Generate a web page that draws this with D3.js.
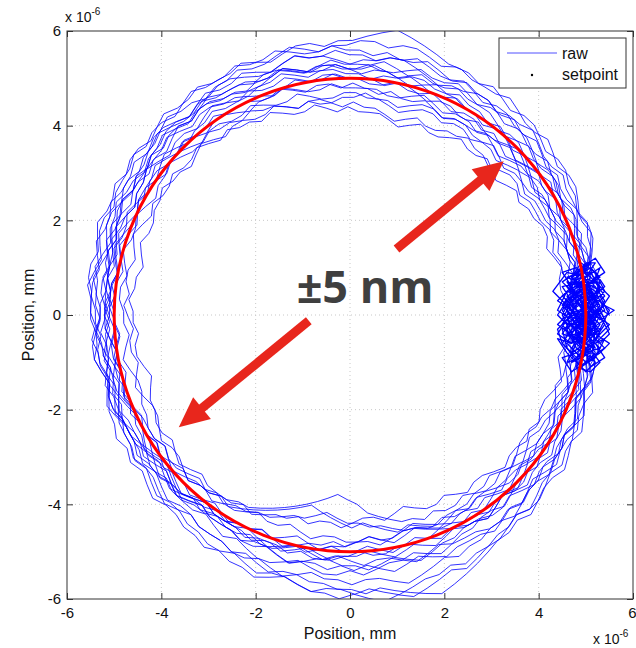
<!DOCTYPE html>
<meta charset="utf-8">
<style>
  body { margin: 0; background: #fff; }
  text { font-family: "Liberation Sans", Arial, sans-serif; fill: #111; }
  .grid line { stroke: #c8c8c8; stroke-dasharray: 1,3; }
  .axis path { display: none; }
  .axis line { stroke: #333; }
</style>
<body>
<svg id="chart" width="636" height="648"></svg>
<script src="https://d3js.org/d3.v7.min.js"></script>
<script>

// ---- data (radii in tenths of a micrometre, one sample every 3 degrees per loop) ----
var xTicks = [-6, -4, -2, 0, 2, 4, 6];
var yTicks = [-6, -4, -2, 0, 2, 4, 6];
var axisLabel = "Position, mm";
var legendLabels = ["raw", "setpoint"];
var setpointRadius = 5;
var angleStep = 3;

var loop01 = [50,50,51,51,50,49,50,51,52,51, 51,52,52,51,52,53,53,52,53,54, 54,53,53,52,53,54,55,55,54,54, 53,54,55,55,56,55,54,54,55,56, 56,55,55,54,55,56,56,55,54,54, 53,54,54,53,52,53,53,52,52,51, 52,52,51,50,51,52,52,51,50,51, 51,52,51,50,51,52,53,53,52,53, 54,53,54,55,55,54,53,54,55,55, 54,55,54,53,53,52,53,54,53,52, 52,51,51,52,51,50,50,51,50,49, 50,50,49,50,51,50,49,50,50,50];
var loop02 = [49,48,48,47,48,48,47,46,47,47, 47,46,46,47,46,45,46,46,45,46, 46,45,46,46,45,44,45,46,46,47, 47,46,46,47,48,47,47,48,49,48, 48,49,49,48,49,50,50,49,50,50, 51,50,50,51,52,51,50,51,51,52, 51,52,52,53,52,51,52,53,53,52, 52,51,52,53,52,52,51,50,51,51, 50,50,49,50,49,48,49,50,49,49, 48,48,49,48,47,47,48,49,48,47, 48,47,47,48,48,47,46,47,48,48, 49,48,48,49,49,48,48,47,48,48];
var loop03 = [51,52,52,53,52,53,54,53,53,54, 54,55,55,54,55,56,56,55,56,57, 56,57,57,56,57,58,58,57,58,58, 57,57,56,57,58,57,56,56,57,56, 56,55,56,56,57,56,55,55,56,55, 55,54,55,55,54,53,54,55,54,54, 53,54,54,55,54,53,54,55,55,56, 55,56,55,56,57,56,56,57,57,58, 57,58,58,59,58,57,58,59,59,60, 59,60,61,60,61,60,59,58,59,58, 57,57,56,55,56,56,55,54,55,54, 54,53,54,53,52,53,53,52,52,52];
var loop04 = [46,47,47,46,46,45,46,46,45,45, 45,44,45,45,44,43,44,44,45,44, 44,43,43,44,43,42,43,44,44,45, 44,45,45,46,45,46,47,47,48,47, 48,48,49,48,48,49,50,49,49,48, 49,50,49,49,50,49,48,49,49,48, 48,47,48,49,48,47,47,48,48,49, 49,48,49,50,49,48,48,47,47,46, 46,45,44,43,42,41,40,39,38,39, 40,42,43,44,45,45,46,45,46,46, 45,46,46,45,46,47,46,45,45,46, 46,47,47,46,47,47,46,47,47,47];
var loop05 = [52,51,51,50,51,51,50,50,49,50, 50,51,50,49,50,51,51,50,50,51, 51,52,51,51,52,52,51,52,53,52, 52,53,52,52,53,54,53,52,52,53, 53,54,54,53,54,53,52,53,53,52, 52,51,52,52,53,52,51,52,52,53, 53,54,53,53,52,53,54,54,53,54, 54,55,54,54,55,56,55,54,55,55, 55,56,56,55,56,57,56,55,56,56, 57,56,56,57,58,57,56,55,56,55, 55,54,54,55,54,53,53,54,53,52, 52,53,52,51,52,52,51,52,52,52];
var loop06 = [50,49,49,48,49,48,48,47,48,48, 47,48,48,47,48,49,48,48,47,48, 48,49,49,48,49,50,50,49,49,50, 50,51,50,50,51,50,49,50,51,51, 51,52,51,51,50,51,52,51,50,51, 50,50,49,50,51,50,49,50,50,51, 50,50,51,51,50,51,52,51,50,50, 51,52,51,51,52,53,52,51,52,52, 52,53,53,52,53,54,53,52,52,53, 53,54,53,52,53,54,53,52,52,51, 51,52,51,50,51,51,50,50,51,50, 50,49,50,51,50,49,49,50,50,50];
var loop07 = [52,53,53,52,53,54,54,53,54,55, 55,54,55,56,55,55,56,57,56,56, 56,57,57,58,59,60,61,60,59,58, 58,57,58,58,57,56,57,58,57,57, 57,58,57,56,57,57,56,57,56,56, 56,55,56,56,55,54,55,56,55,55, 54,55,54,54,53,54,55,54,53,53, 53,54,53,52,53,53,52,52,51,52, 52,51,52,52,51,50,51,52,51,51, 50,51,51,50,50,51,52,51,50,51, 51,52,52,51,52,53,52,52,53,52, 52,53,52,52,53,52,51,52,52,52];
var loop08 = [46,46,45,45,46,45,44,45,45,44, 44,43,44,43,42,43,44,43,43,44, 43,42,42,43,42,41,42,43,43,43, 44,43,44,45,44,44,45,46,45,46, 46,47,46,47,48,47,47,48,47,47, 48,47,48,49,48,47,48,48,47,48, 47,46,47,47,46,47,48,47,46,46, 47,48,47,47,48,49,48,48,47,47, 46,47,46,45,45,44,45,44,44,45, 44,43,43,44,43,42,43,44,44,43, 44,45,44,44,45,46,45,45,46,45, 46,45,45,46,47,46,45,46,46,46];
var loop09 = [51,51,50,51,52,51,51,52,52,51, 52,52,53,52,52,53,54,53,53,52, 53,54,53,53,54,53,52,52,53,52, 52,53,53,52,53,54,54,53,54,54, 54,55,54,54,55,56,55,55,54,55, 55,56,55,55,56,55,54,55,55,54, 54,53,54,54,53,52,53,54,53,53, 52,52,51,52,53,52,51,51,50,51, 50,50,49,50,51,50,49,49,48,49, 48,47,48,48,47,46,47,48,47,47, 47,46,47,47,46,47,48,47,46,47, 47,48,47,48,49,48,47,48,48,48];
var loop10 = [52,52,53,52,52,53,53,54,53,53, 53,54,53,53,54,55,54,54,53,54, 54,55,54,54,55,56,55,55,54,55, 55,56,55,55,56,55,54,55,56,55, 55,56,55,54,55,55,54,54,53,54, 53,54,53,53,52,53,52,52,51,52, 51,52,51,50,51,51,50,50,51,50, 50,49,50,51,50,50,51,50,49,50, 51,51,52,51,51,52,51,52,52,51, 52,53,52,52,53,54,53,52,53,53, 53,54,54,53,54,53,52,53,54,53, 53,54,53,53,52,53,53,52,52,52];
var loop11 = [48,48,47,48,49,48,48,49,49,48, 49,49,50,49,48,49,50,50,49,50, 50,51,50,50,51,52,51,51,50,51, 51,52,52,51,52,53,52,52,51,52, 52,53,53,52,53,54,53,53,52,53, 53,54,53,53,54,53,52,53,53,52, 52,53,52,52,53,54,53,53,54,54, 54,55,54,55,56,55,55,56,56,57, 57,56,57,58,57,57,58,59,58,58, 59,58,59,60,59,58,58,57,58,57, 57,56,56,55,56,55,54,54,53,53, 52,53,52,51,52,51,50,51,51,50];
var loop12 = [49,50,50,49,50,51,50,49,49,50, 49,49,48,49,50,49,48,48,49,48, 48,47,48,49,48,47,47,48,48,49, 48,49,49,48,49,50,49,49,48,49, 50,50,49,50,51,50,50,51,51,50, 51,52,51,51,52,51,50,51,51,50, 50,49,50,50,49,50,51,50,49,49, 49,48,49,49,48,47,48,49,48,48, 47,46,46,45,44,44,43,42,43,44, 44,45,45,46,47,47,48,49,49,50, 50,51,50,50,51,50,49,50,50,51, 50,50,49,50,51,50,49,50,50,50];
var loop13 = [51,52,51,51,52,52,51,52,53,52, 52,53,52,53,54,53,53,54,54,53, 54,55,54,55,56,55,55,56,55,56, 56,57,56,56,57,58,57,57,58,57, 57,58,57,57,58,57,56,57,57,56, 57,56,56,57,56,55,56,56,55,55, 55,54,55,55,54,53,54,54,53,53, 53,52,53,53,52,53,52,51,52,52, 52,53,52,52,53,54,53,53,54,53, 54,53,54,55,54,53,54,55,54,54, 54,55,54,53,54,53,53,52,53,53, 52,53,52,51,52,52,51,52,51,51];
var loop14 = [48,47,47,48,47,46,47,47,46,46, 46,45,46,46,45,46,47,46,46,47, 47,46,47,48,47,47,48,47,48,48, 48,49,48,48,49,50,49,49,50,50, 50,51,50,50,51,50,51,52,51,51, 51,50,51,52,51,50,50,51,50,50, 50,49,50,51,50,50,51,50,49,50, 50,51,50,50,51,52,51,50,51,51, 51,52,51,51,52,51,50,51,52,51, 51,50,51,52,51,50,50,49,50,50, 49,50,49,48,49,49,48,49,48,48, 48,47,48,49,48,47,48,48,47,48];
var loop15 = [50,51,50,50,51,50,49,50,50,51, 51,50,50,51,50,49,50,51,50,50, 50,51,51,52,51,50,51,52,52,51, 52,53,53,52,53,54,53,53,54,54, 54,55,54,53,54,54,53,54,53,53, 53,52,53,54,53,52,52,53,52,52, 52,51,52,53,52,52,53,52,53,53, 53,54,53,53,54,55,54,54,55,55, 55,56,55,56,57,56,56,57,57,58, 58,59,58,59,60,61,62,61,60,59, 58,57,57,56,57,56,55,55,56,55, 54,55,54,53,54,53,52,53,53,52];
var loop16 = [49,48,49,49,48,48,49,48,47,48, 48,47,48,48,47,46,47,48,47,47, 47,46,47,47,46,45,46,46,47,46, 46,45,46,46,45,46,47,46,46,47, 47,46,47,48,47,46,47,47,48,47, 47,46,46,47,46,45,46,46,47,46, 46,45,46,46,45,44,45,46,46,47, 47,46,47,48,47,46,47,47,48,47, 47,46,47,47,46,47,48,47,47,48, 48,47,48,49,48,47,48,48,49,48, 48,47,48,49,48,48,49,48,49,49, 49,48,49,49,48,49,50,49,49,49];
var loop17 = [50,51,51,52,51,51,52,51,50,51, 51,52,51,51,52,51,50,51,52,52, 52,53,52,52,53,52,53,54,53,53, 53,54,53,52,53,54,53,53,52,53, 53,54,54,53,54,55,54,54,53,54, 54,55,54,54,53,54,55,54,54,53, 53,54,53,52,53,53,52,53,52,52, 52,53,52,51,52,52,51,52,51,51, 51,50,51,52,51,50,51,50,49,50, 50,49,50,51,50,49,50,51,50,51, 51,52,51,50,51,52,51,51,52,51, 51,50,51,52,51,50,51,51,50,51];
var loop18 = [49,50,49,48,49,50,49,49,48,48, 48,47,48,49,48,47,48,49,48,49, 49,48,49,50,49,49,50,49,50,50, 50,51,51,50,51,52,51,51,52,51, 52,53,52,51,52,52,51,52,53,52, 52,51,52,53,52,51,52,52,51,51, 51,50,51,52,51,50,51,50,50,50, 50,49,50,49,48,49,48,48,47,48, 47,46,45,44,43,42,41,42,43,44, 45,44,45,46,47,46,47,48,47,48, 48,49,48,49,50,49,48,49,49,50, 49,50,49,48,49,50,49,49,48,49];

// small angular offset (degrees) of each loop's samples
var loopPhase = [0, 1.5, 0.8, 2.1, 0.4, 1.2, 2.5, 0.6, 1.8, 0.2, 1.0, 2.3, 0.9, 1.6, 0.3, 2.0, 1.3, 0.5];

// dwell at the start/stop point, [x, y] in tenths of a micrometre
var dwellStart = [[50,0],[48,3],[51,5],[47,2],[49,-3],[52,-1],[46,-4],[50,-6],[53,-3],[48,1],
  [45,4],[49,7],[52,4],[47,8],[50,10],[48,6],[53,7],[51,2],[46,0],[44,-2],
  [48,-5],[51,-8],[47,-10],[50,-7],[54,-5],[52,-9],[49,-11],[46,-7],[45,-3],[49,-1],
  [52,2],[55,0],[53,4],[50,3],[47,5],[45,7],[48,9],[51,11],[49,8],[52,6],
  [54,3],[51,-2],[48,-2],[46,-6],[49,-9],[52,-6],[55,-3],[53,1],[50,-4],[47,-1],
  [44,1],[46,5],[49,4],[51,7],[54,9],[52,12],[49,10],[47,6],[50,1],[53,-2],
  [51,-5],[48,-8],[45,-9],[47,-12],[50,-10],[53,-8],[55,-6],[52,-4],[49,-2],[46,2],
  [48,4],[52,8],[50,5],[47,3],[45,-1],[48,-3],[51,0],[54,2],[56,1],[53,-1],
  [50,2],[47,-6],[44,-5],[46,-8],[50,-12],[52,-10],[49,-6],[51,-3],[48,0],[45,3],
  [43,5],[46,9],[50,8],[53,10],[51,5],[49,2],[52,-2],[50,-5],[47,-4],[50,0]];
var dwellMid = [[49,0],[51,-2],[48,-4],[50,-7],[52,-5],[54,-2],[52,1],[49,2],[47,4],[50,6],
  [52,3],[50,-1],[47,-3],[45,-6],[48,-9],[51,-7],[53,-4],[51,-1],[48,3],[46,6],
  [49,8],[52,7],[54,4],[51,1],[49,-2],[46,-2],[44,0],[46,3],[49,5],[51,3],
  [53,0],[51,-4],[49,-7],[47,-5],[45,-2],[47,2],[50,4],[53,3],[55,1],[53,-3],
  [50,-5],[48,-2],[46,1],[48,6],[51,9],[53,6],[50,2],[48,0],[50,-3],[52,-8],
  [50,-10],[47,-7],[49,-4],[52,-2],[50,1],[47,6],[45,9],[48,10],[51,8],[49,4],
  [46,-1],[49,-5],[51,-11],[54,-9],[52,-6],[49,-3],[51,2],[54,5],[52,9],[49,11],
  [47,8],[50,5],[53,2],[50,-2],[47,-6],[44,-4],[46,-1],[49,1],[52,4],[50,7],
  [47,5],[45,2],[48,-1],[51,-5],[53,-7],[50,-8],[48,-5],[51,-1],[53,2],[51,5],
  [48,4],[46,7],[49,6],[52,0],[49,-1],[47,1],[50,3],[52,-1],[50,-3],[50,0]];
var dwellEnd = [[50,1],[52,-3],[49,-5],[47,-2],[45,1],[48,5],[50,7],[53,5],[51,3],[49,0],
  [46,-3],[48,-7],[51,-9],[54,-7],[52,-5],[50,-2],[47,1],[44,3],[47,6],[49,9],
  [52,9],[54,6],[51,4],[48,2],[46,-1],[49,-4],[53,-4],[55,-2],[52,0],[49,3],
  [46,6],[48,8],[51,10],[53,8],[50,6],[47,4],[45,0],[47,-4],[50,-8],[48,-11],
  [51,-12],[53,-10],[50,-6],[47,-8],[45,-6],[44,-3],[47,0],[50,-1],[53,1],[55,4],
  [52,7],[49,6],[46,3],[48,-1],[51,-3],[54,-1],[52,3],[49,5],[47,8],[50,11],
  [52,11],[50,8],[48,4],[46,1],[48,-2],[51,-6],[49,-9],[46,-10],[48,-6],[51,-4],
  [53,-6],[55,-4],[53,0],[50,2],[47,-1],[45,-4],[48,-5],[52,-7],[50,-3],[47,3],
  [45,6],[49,7],[52,5],[54,1],[51,-1],[48,1],[46,4],[49,2],[51,6],[48,7],
  [46,8],[50,9],[53,6],[51,1],[48,-3],[50,-5],[52,-2],[49,1],[50,3],[50,0]];

// annotation (micrometres)
var annotationText = "\u00b15 nm";
var annotationAt = [0.32, 0.25];
var arrowTips = [[-3.63, -2.37], [3.26, 3.25]];
var arrowGap = [0.40, 0.67];

var loops = [loop01, loop02, loop03, loop04, loop05, loop06, loop07, loop08, loop09,
             loop10, loop11, loop12, loop13, loop14, loop15, loop16, loop17, loop18];

// ---- chart ----
var svg = d3.select("#chart"),
    margin = {top: 31, right: 3, bottom: 49, left: 67},
    width = +svg.attr("width") - margin.left - margin.right,
    height = +svg.attr("height") - margin.top - margin.bottom,
    g = svg.append("g").attr("transform", "translate(" + margin.left + "," + margin.top + ")");

var x = d3.scaleLinear().domain([-6, 6]).range([0, width]);
var y = d3.scaleLinear().domain([-6, 6]).range([height, 0]);

// grid
g.append("g").attr("class", "grid")
  .selectAll("line").data(xTicks.slice(1, -1)).enter().append("line")
  .attr("x1", d => x(d)).attr("x2", d => x(d)).attr("y1", 0).attr("y2", height);
g.append("g").attr("class", "grid")
  .selectAll("line").data(yTicks.slice(1, -1)).enter().append("line")
  .attr("y1", d => y(d)).attr("y2", d => y(d)).attr("x1", 0).attr("x2", width);

svg.append("defs").append("clipPath").attr("id", "plot")
  .append("rect").attr("width", width).attr("height", height);

// raw trace pieces: start dwell, first half of the loops, mid dwell, the rest, end dwell
function dwellPoints(arr) { return arr.map(p => [p[0] / 10, p[1] / 10]); }
function loopPoints(loop, k) {
  return loop.map(function(r, i) {
    var a = (i * angleStep + loopPhase[k]) * Math.PI / 180;
    return [r / 10 * Math.cos(a), r / 10 * Math.sin(a)];
  });
}
var loopsA = [], loopsB = [];
loops.forEach(function(loop, k) {
  (k < 9 ? loopsA : loopsB).push.apply(k < 9 ? loopsA : loopsB, loopPoints(loop, k));
});
var pieces = [
  {pts: dwellPoints(dwellStart), w: 1.3},
  {pts: loopsA, w: 0.8},
  {pts: dwellPoints(dwellMid), w: 1.3},
  {pts: loopsB, w: 0.8},
  {pts: dwellPoints(dwellEnd), w: 1.3}
];

var line = d3.line().x(d => x(d[0])).y(d => y(d[1]));

var plot = g.append("g").attr("clip-path", "url(#plot)");
plot.selectAll(".raw").data(pieces).enter().append("path")
  .attr("class", "raw")
  .attr("d", d => line(d.pts))
  .attr("fill", "none")
  .attr("stroke", "#0000ff")
  .attr("stroke-width", d => d.w)
  .attr("stroke-linejoin", "round");

// setpoint circle
plot.append("ellipse")
  .attr("cx", x(0)).attr("cy", y(0))
  .attr("rx", x(setpointRadius) - x(0))
  .attr("ry", y(0) - y(setpointRadius))
  .attr("fill", "none")
  .attr("stroke", "#f00")
  .attr("stroke-width", 3);

// axes (ticks pointing inward on all four sides)
var fmt = d => String(d);
g.append("g").attr("class", "axis")
  .attr("transform", "translate(0," + height + ")")
  .call(d3.axisBottom(x).tickValues(xTicks).tickFormat(fmt).tickSizeInner(-6).tickSizeOuter(0).tickPadding(8))
  .selectAll("text").style("font-size", "15px").attr("fill", "#111")
  .filter(d => d === xTicks[xTicks.length - 1]).attr("text-anchor", "end").attr("dx", 3);
g.append("g").attr("class", "axis")
  .call(d3.axisLeft(y).tickValues(yTicks).tickFormat(fmt).tickSizeInner(-6).tickSizeOuter(0).tickPadding(6))
  .selectAll("text").style("font-size", "15px").attr("fill", "#111");
g.append("g").attr("class", "axis")
  .call(d3.axisTop(x).tickValues(xTicks).tickFormat("").tickSizeInner(-6).tickSizeOuter(0));
g.append("g").attr("class", "axis")
  .attr("transform", "translate(" + width + ",0)")
  .call(d3.axisRight(y).tickValues(yTicks).tickFormat("").tickSizeInner(-6).tickSizeOuter(0));

g.append("rect")
  .attr("width", width).attr("height", height)
  .attr("fill", "none").attr("stroke", "#333").attr("stroke-width", 1);

// axis labels and exponent notes
g.append("text")
  .attr("x", width / 2).attr("y", height + 40)
  .attr("text-anchor", "middle").style("font-size", "16px")
  .text(axisLabel);
g.append("text")
  .attr("transform", "translate(-33," + (height / 2) + ") rotate(-90)")
  .attr("text-anchor", "middle").style("font-size", "16px")
  .text(axisLabel);

function exponent(px, py) {
  var t = g.append("text").attr("x", px).attr("y", py).style("font-size", "14px");
  t.append("tspan").text("x 10");
  t.append("tspan").attr("dy", -7).style("font-size", "10px").text("-6");
}
exponent(-2, -9);
exponent(width - 40, height + 45);

// legend
var legend = g.append("g").attr("transform", "translate(" + (x(6) - 134) + "," + 7 + ")");
legend.append("rect")
  .attr("width", 127).attr("height", 50)
  .attr("fill", "#fff").attr("stroke", "#333");
legend.append("line")
  .attr("x1", 8).attr("x2", 58).attr("y1", 15).attr("y2", 15)
  .attr("stroke", "#5050ff").attr("stroke-width", 1);
legend.append("circle")
  .attr("cx", 33).attr("cy", 37).attr("r", 1.2).attr("fill", "#000");
legend.selectAll(".lab").data(legendLabels).enter().append("text")
  .attr("class", "lab")
  .attr("x", 63).attr("y", (d, i) => 21 + i * 21)
  .style("font-size", "16px")
  .text(d => d);

// annotation: double arrow with a gap for the label
var red = "#e8261c";
var p0 = [x(arrowTips[0][0]), y(arrowTips[0][1])],
    p1 = [x(arrowTips[1][0]), y(arrowTips[1][1])];
var dx = p1[0] - p0[0], dy = p1[1] - p0[1], len = Math.hypot(dx, dy);
var ux = dx / len, uy = dy / len;
var headLen = 30, headHalf = 14;
function at(t) { return [p0[0] + dx * t, p0[1] + dy * t]; }
function head(tip, dir) {
  var bx = tip[0] - dir * ux * headLen, by = tip[1] - dir * uy * headLen;
  return [tip, [bx - uy * headHalf, by + ux * headHalf], [bx + uy * headHalf, by - ux * headHalf]];
}
var t0 = headLen / len;
[[t0 * 0.9, arrowGap[0]], [arrowGap[1], 1 - t0 * 0.9]].forEach(function(seg) {
  var a = at(seg[0]), b = at(seg[1]);
  g.append("line")
    .attr("x1", a[0]).attr("y1", a[1]).attr("x2", b[0]).attr("y2", b[1])
    .attr("stroke", red).attr("stroke-width", 9);
});
g.append("polygon").attr("points", head(p0, -1).join(" ")).attr("fill", red);
g.append("polygon").attr("points", head(p1, 1).join(" ")).attr("fill", red);

g.append("text")
  .attr("x", x(annotationAt[0])).attr("y", y(annotationAt[1]))
  .attr("text-anchor", "middle")
  .style("font-family", "'Open Sans', sans-serif")
  .style("font-weight", "bold").style("font-size", "45px")
  .style("fill", "#3f3f3f")
  .text(annotationText);

</script>
</body>
